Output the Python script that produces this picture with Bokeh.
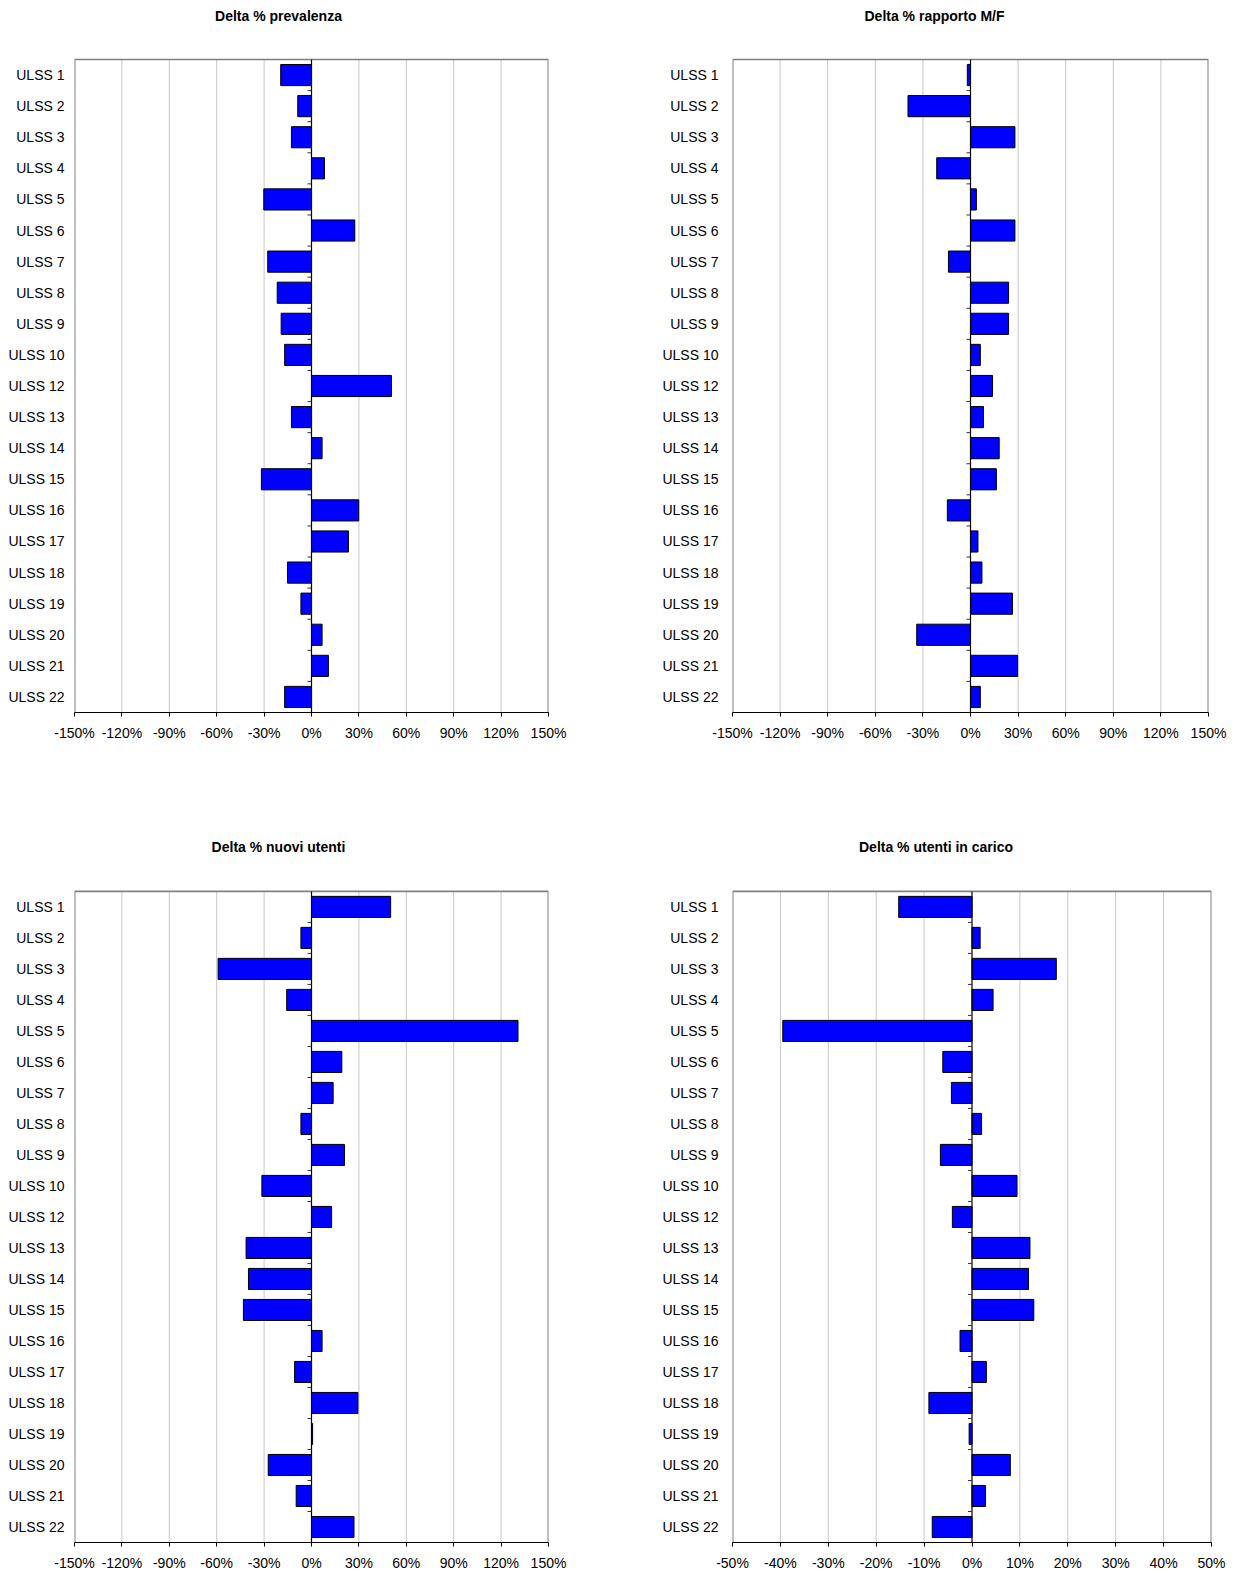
from bokeh.plotting import figure
from bokeh.models import Range1d, FixedTicker, PrintfTickFormatter, ColumnDataSource
from bokeh.layouts import column, row
from bokeh.embed import file_html
from bokeh.resources import INLINE
from bokeh.core.properties import value

categories = ["ULSS 1", "ULSS 2", "ULSS 3", "ULSS 4", "ULSS 5", "ULSS 6", "ULSS 7",
              "ULSS 8", "ULSS 9", "ULSS 10", "ULSS 12", "ULSS 13", "ULSS 14", "ULSS 15",
              "ULSS 16", "ULSS 17", "ULSS 18", "ULSS 19", "ULSS 20", "ULSS 21", "ULSS 22"]

prevalenza = [-19.5, -8.7, -12.7, 8.2, -30.2, 27.4, -27.7, -21.7, -19.2, -17.0, 50.6,
              -12.7, 6.7, -31.7, 29.9, 23.4, -15.2, -6.7, 6.7, 10.7, -17.0]
rapporto_mf = [-2.0, -39.4, 28.0, -21.3, 3.7, 28.0, -13.9, 24.0, 24.0, 6.2, 13.9,
               8.2, 18.1, 16.3, -14.6, 4.7, 7.2, 26.5, -33.9, 29.7, 6.2]
nuovi_utenti = [50.1, -6.7, -59.1, -15.7, 130.7, 19.2, 13.7, -6.7, 20.9, -31.4, 12.7,
                -41.4, -39.9, -43.1, 6.7, -10.7, 29.4, 0.7, -27.4, -9.7, 26.9]
utenti_in_carico = [-15.3, 1.7, 17.6, 4.4, -39.5, -6.1, -4.3, 2.0, -6.6, 9.4, -4.1,
                    12.1, 11.8, 12.9, -2.5, 3.0, -9.0, -0.6, 8.0, 2.8, -8.3]

ticks_150 = [-150, -120, -90, -60, -30, 0, 30, 60, 90, 120, 150]
ticks_50 = [-50, -40, -30, -20, -10, 0, 10, 20, 30, 40, 50]

titles = ["Delta % prevalenza", "Delta % rapporto M/F",
          "Delta % nuovi utenti", "Delta % utenti in carico"]

FONT = "Liberation Sans"


def make_chart(title, vals, ticks, width, height, mb_left, mb_right, top_px, mb_bottom,
               label_area, label_standoff, x_standoff, title_y):
    n = len(categories)
    pos = list(range(1, n + 1))
    x_lo, x_hi = ticks[0], ticks[-1]
    frame_w = width - mb_left - mb_right
    cat_h = height - top_px - mb_bottom          # pixel height of the category area
    ppu = cat_h / n                              # pixels per category
    y_top = 0.5 - top_px / ppu                   # frame extends up to the figure top

    p = figure(width=width, height=height, output_backend="svg", toolbar_location=None,
               x_range=Range1d(x_lo, x_hi), y_range=Range1d(n + 0.5, y_top),
               min_border_left=mb_left, min_border_right=mb_right,
               min_border_top=0, min_border_bottom=mb_bottom,
               background_fill_color="white", border_fill_color="white")
    p.outline_line_color = None
    p.xgrid.grid_line_color = None
    p.ygrid.grid_line_color = None

    # vertical grid lines (category area only)
    inner = [t for t in ticks if t not in (x_lo, x_hi, 0)]
    p.segment(x0=inner, x1=inner, y0=[0.5] * len(inner), y1=[n + 0.5] * len(inner),
              line_color="#C8C8C8", line_width=1)

    # plot area box (top, left, right)
    p.segment(x0=[x_lo, x_lo, x_hi], x1=[x_hi, x_lo, x_hi],
              y0=[0.5, 0.5, 0.5], y1=[0.5, n + 0.5, n + 0.5],
              line_color="#808080", line_width=[1.6, 2, 2])

    src = ColumnDataSource(dict(y=pos, left=[min(0, v) for v in vals],
                                right=[max(0, v) for v in vals]))
    p.hbar(y="y", left="left", right="right", height=0.68, source=src,
           fill_color="#0000FF", line_color="#000000", line_width=1)

    # zero axis line with small category ticks
    p.segment(x0=[0], x1=[0], y0=[0.5], y1=[n + 0.5], line_color="#000000", line_width=1.2)
    tick_len = 4 * (x_hi - x_lo) / frame_w
    bounds = [i + 0.5 for i in range(1, n)]
    p.segment(x0=[0] * len(bounds), x1=[-tick_len] * len(bounds), y0=bounds, y1=bounds,
              line_color="#333333", line_width=1)

    # chart title
    title_x = x_lo + ((frame_w - label_area) / 2) * (x_hi - x_lo) / frame_w
    p.text(x=[title_x], y=[0.5 - (top_px - title_y) / ppu], text=[title],
           text_align="center", text_baseline="middle",
           text_font=value(FONT), text_font_size="14px", text_font_style="bold",
           text_color="#000000")

    # x axis
    xa = p.xaxis[0]
    xa.ticker = FixedTicker(ticks=ticks)
    xa.formatter = PrintfTickFormatter(format="%d%%")
    xa.axis_line_color = "#000000"
    xa.axis_line_width = 1.2
    xa.major_tick_line_color = "#000000"
    xa.major_tick_out = 4
    xa.major_tick_in = 0
    xa.minor_tick_line_color = None
    xa.major_label_text_font = FONT
    xa.major_label_text_font_size = "14px"
    xa.major_label_text_color = "#000000"
    xa.major_label_standoff = x_standoff

    # y axis
    ya = p.yaxis[0]
    ya.ticker = FixedTicker(ticks=pos)
    ya.major_label_overrides = {i: c for i, c in zip(pos, categories)}
    ya.axis_line_color = None
    ya.major_tick_line_color = None
    ya.minor_tick_line_color = None
    ya.major_tick_out = 0
    ya.major_tick_in = 0
    ya.major_label_text_font = FONT
    ya.major_label_text_font_size = "14px"
    ya.major_label_text_color = "#000000"
    ya.major_label_standoff = label_standoff
    return p


p1 = make_chart(titles[0], prevalenza, ticks_150, 620, 820, 74, 72, 59, 108, 66, 10, 8, 15)
p2 = make_chart(titles[1], rapporto_mf, ticks_150, 616, 820, 112, 28, 59, 108, 72, 14, 8, 15)
p3 = make_chart(titles[2], nuovi_utenti, ticks_150, 620, 753, 74, 72, 71, 30, 66, 10, 8, 27)
p4 = make_chart(titles[3], utenti_in_carico, ticks_50, 616, 753, 112, 25, 71, 30, 72, 14, 8, 27)

layout = column(row(p1, p2), row(p3, p4))
open("out.html", "w").write(file_html(layout, INLINE))
